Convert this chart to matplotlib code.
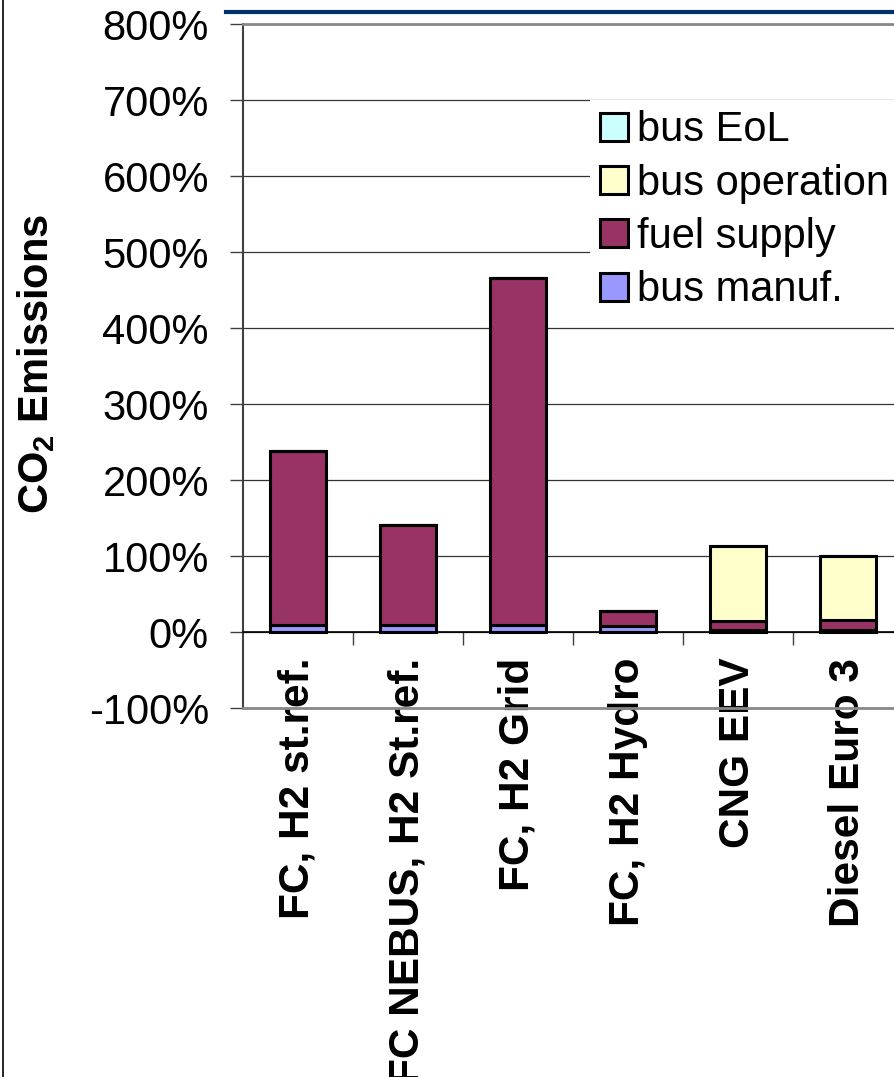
import matplotlib
matplotlib.use('Agg')
import matplotlib.pyplot as plt
from matplotlib.lines import Line2D
from matplotlib.patches import Patch
import numpy as np

plt.rcParams['font.family'] = ['Liberation Sans', 'DejaVu Sans']
plt.rcParams['mathtext.fontset'] = 'custom'
plt.rcParams['mathtext.rm'] = 'Liberation Sans'
plt.rcParams['mathtext.bf'] = 'Liberation Sans:bold'

# bus types and the share of each life-cycle stage (% of Diesel Euro 3)
categories = ['FC, H2 st.ref.', 'FC NEBUS, H2 St.ref.', 'FC, H2 Grid',
              'FC, H2 Hydro', 'CNG EEV', 'Diesel Euro 3']
bus_manuf = [9, 9, 9, 8, 3, 3]
fuel_supply = [229, 132, 457, 20, 11, 13]
bus_operation = [0, 0, 0, 0, 99, 84]
bus_eol = [0, 0, 0, 0, 0, 0]

y_ticks = [-100, 0, 100, 200, 300, 400, 500, 600, 700, 800]

col_manuf = '#9999FF'
col_fuel = '#993366'
col_oper = '#FFFFCC'
col_eol = '#CCFFFF'

fig = plt.figure(figsize=(8.95, 10.77), dpi=100)
ax = fig.add_axes([243 / 895, 1 - 708 / 1077, 660 / 895, 684 / 1077])

x = np.arange(len(categories))
bar_w = 0.51
edge = dict(edgecolor='black', linewidth=2.2)

bottom = np.zeros(len(categories))
for vals, col in [(bus_manuf, col_manuf), (fuel_supply, col_fuel),
                  (bus_operation, col_oper), (bus_eol, col_eol)]:
    vals = np.array(vals, dtype=float)
    ax.bar(x, vals, bar_w, bottom=bottom, color=col, zorder=3, **edge)
    bottom = bottom + vals

ax.set_xlim(-0.5, len(categories) - 0.5)
ax.set_ylim(-100, 800)

# y axis
ax.set_yticks(y_ticks)
ax.set_yticklabels([str(v) + '%' for v in y_ticks])
ax.yaxis.grid(True, color='#333333', linewidth=0.9, zorder=0)
ax.tick_params(axis='y', direction='out', length=9.5, width=1, color='#404040',
               labelsize=30, pad=15)

# category axis sits at 0%
ax.spines['bottom'].set_position(('data', 0))
ax.spines['bottom'].set_color('black')
ax.spines['bottom'].set_linewidth(1.2)
ax.spines['bottom'].set_zorder(4)
ax.set_xticks(np.arange(len(categories) - 1) + 0.5)
ax.set_xticklabels([])
ax.set_xticks(x, minor=True)
ax.set_xticklabels(categories, minor=True, rotation=90, fontsize=30.5,
                   fontweight='bold', va='top', ha='center')
ax.tick_params(axis='x', which='major', direction='out', length=9.5,
               width=1, color='#404040')
ax.tick_params(axis='x', which='minor', length=0, pad=18.5)

ax.spines['left'].set_color('#404040')
ax.spines['left'].set_linewidth(1.5)
ax.spines['top'].set_color('#888888')
ax.spines['top'].set_linewidth(2)
ax.spines['right'].set_visible(False)
ax.axhline(-100, color='#888888', linewidth=2, zorder=5, clip_on=False)

fig.text(36 / 895, 1 - 364 / 1077, r'CO$_\mathbf{2}$ Emissions', rotation=90,
         fontsize=30, fontweight='bold', ha='center', va='center')

handles = [Patch(facecolor=col_eol, **edge), Patch(facecolor=col_oper, **edge),
           Patch(facecolor=col_fuel, **edge), Patch(facecolor=col_manuf, **edge)]
labels = ['bus EoL', 'bus operation', 'fuel supply', 'bus manuf.']
leg = ax.legend(handles, labels, loc='upper left',
                bbox_to_anchor=(590 / 895, 1 - 100 / 1077),
                bbox_transform=fig.transFigure, fontsize=30,
                frameon=True, fancybox=False, borderpad=0.25,
                handlelength=0.66, handleheight=0.66, handletextpad=0.22,
                labelspacing=0.32, borderaxespad=0)
leg.get_frame().set_facecolor('white')
leg.get_frame().set_edgecolor('none')
leg.get_frame().set_alpha(1)
leg.set_zorder(6)

# page decorations
fig.add_artist(Line2D([226 / 895, 1], [1 - 12 / 1077] * 2, color='#003366',
                      linewidth=3))
fig.add_artist(Line2D([3 / 895] * 2, [0, 1], color='black', linewidth=1.2))

fig.savefig('out.png', dpi=100)
